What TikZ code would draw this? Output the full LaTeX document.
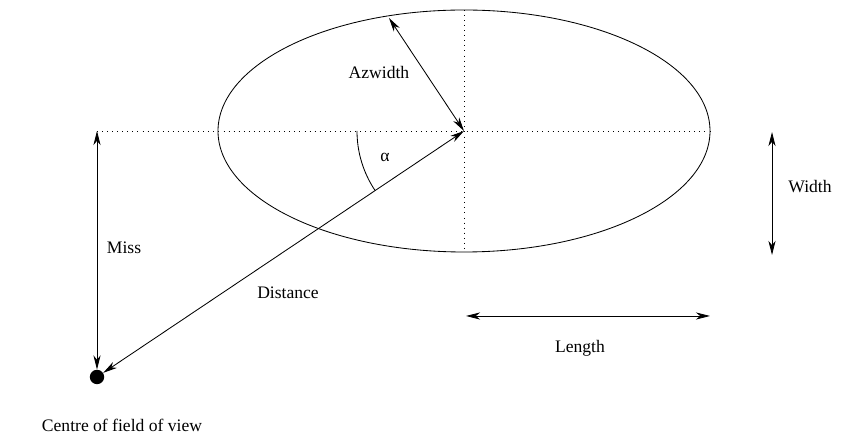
\documentclass[tikz,border=0pt]{standalone}
\usepackage{fontspec}
\setmainfont{Liberation Serif}
\usetikzlibrary{arrows.meta,positioning}

\begin{document}
\begin{tikzpicture}[
  x=0.025cm, y=-0.025cm,
  dim/.style={{Stealth[length=10pt,width=5pt,inset=3pt]}-{Stealth[length=10pt,width=5pt,inset=3pt]}, line width=0.6pt},
  axisline/.style={line width=0.6pt, dash pattern=on 0.6pt off 3pt},
  lbl/.style={font=\fontsize{12.5}{15}\selectfont, inner sep=0pt}
]
\useasboundingbox (0,0) rectangle (844,438);
% centre of the ellipse and its axes
\coordinate (c) at (464,131);
\coordinate (missTop) at (97,131);
\coordinate (xRight) at (710,131);
\coordinate (yTop) at (464,10);
\coordinate (yBot) at (464,252);
\coordinate (az) at (389,18);
\node[circle, fill, inner sep=0pt, minimum size=0.36cm] (fov) at (97,377) {};
\draw[line width=0.6pt] (c) ellipse [x radius=246, y radius=121];
\draw[axisline] (missTop) -- (xRight);
\draw[axisline] (yTop) -- (yBot);
% dimension arrows
\draw[dim] (missTop) -- (fov);
\draw[dim] (fov) -- (c);
\draw[dim] (c) -- (az);
\draw[line width=0.6pt] (c) ++(180:107) arc [start angle=180, end angle=146.2, radius=107];
\coordinate (w1) at (772,132);
\coordinate (w2) at (772,255);
\draw[dim] (w1) -- (w2);
\coordinate (l1) at (466,316);
\coordinate (l2) at (710,316);
\draw[dim] (l1) -- (l2);
% labels
\node[lbl] (azLabel) at (379,72) {Azwidth};
\node[lbl] (alphaLabel) at (385,157) {α};
\node[lbl] (missLabel) at (124,248) {Miss};
\node[lbl] (distLabel) at (288,293) {Distance};
\node[lbl] (widthLabel) at (810,187) {Width};
\node[lbl] (lengthLabel) at (580,348) {Length};
\node[lbl] (fovLabel) at (122,425) {Centre of field of view};
\end{tikzpicture}
\end{document}
